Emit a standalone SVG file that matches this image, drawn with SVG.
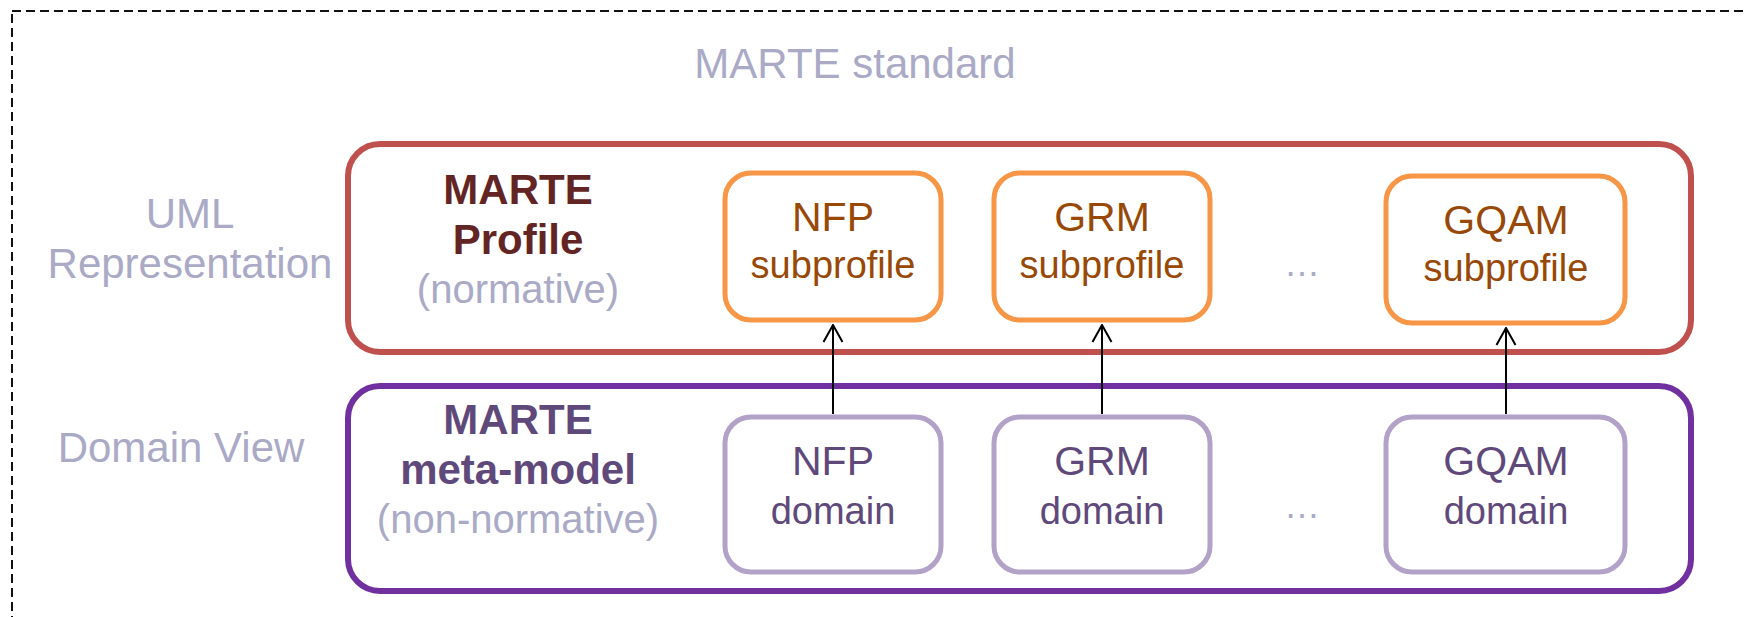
<svg xmlns="http://www.w3.org/2000/svg" width="1746" height="617" viewBox="0 0 1746 617">
  <defs>
    <!-- open V head, drawn along +x so orient="auto" turns it with the line -->
    <marker id="open-arrow" viewBox="0 0 20 22" refX="19" refY="11" markerWidth="20" markerHeight="22" markerUnits="userSpaceOnUse" orient="auto">
      <path d="M2 1.5 L19 11 L2 20.5" fill="none" stroke="#000" stroke-width="2"/>
    </marker>
    <style>
      text { font-family: "Liberation Sans", Arial, sans-serif; text-anchor: middle; }
      .frame { fill: none; stroke: #111; stroke-width: 2; stroke-dasharray: 9 5; }
      .label { fill: #aaaac6; font-size: 42px; }
      .sub { fill: #aaaac6; font-size: 40px; }
      .dots { fill: #aaaac6; font-size: 36px; }
      .profile-box { fill: #fff; stroke: #c0504d; stroke-width: 6; }
      .meta-box { fill: #fff; stroke: #7030a0; stroke-width: 6; }
      .profile-title { fill: #632523; font-size: 42px; font-weight: bold; }
      .meta-title { fill: #5f497a; font-size: 42px; font-weight: bold; }
      .subprofile { fill: #fff; stroke: #f79646; stroke-width: 5; }
      .subprofile-text { fill: #984807; }
      .domain { fill: #fff; stroke: #b3a2c7; stroke-width: 5; }
      .domain-text { fill: #5f497a; }
      .big { font-size: 41px; }
      .small { font-size: 38px; }
      .link { stroke: #000; stroke-width: 2; fill: none; marker-end: url(#open-arrow); }
    </style>
  </defs>

  <rect width="1746" height="617" fill="#fff"/>

  <!-- dashed frame of the standard, running off the right and bottom edges -->
  <rect class="frame" x="12" y="11" width="1760" height="640"/>
  <text class="label" x="855" y="78">MARTE standard</text>

  <!-- row labels -->
  <text class="label" x="190" y="228">UML</text>
  <text class="label" x="190" y="278">Representation</text>
  <text class="label" x="181" y="462">Domain View</text>

  <!-- profile layer -->
  <g id="marte-profile">
    <rect class="profile-box" x="348" y="144" width="1343" height="208" rx="32"/>
    <text class="profile-title" x="518" y="204">MARTE</text>
    <text class="profile-title" x="518" y="254">Profile</text>
    <text class="sub" x="518" y="303">(normative)</text>
  </g>

  <!-- domain layer -->
  <g id="marte-metamodel">
    <rect class="meta-box" x="348" y="386" width="1343" height="205" rx="32"/>
    <text class="meta-title" x="518" y="434">MARTE</text>
    <text class="meta-title" x="518" y="484">meta-model</text>
    <text class="sub" x="518" y="533">(non-normative)</text>
  </g>

  <g id="nfp-subprofile">
    <rect class="subprofile" x="725" y="173" width="216" height="147" rx="26"/>
    <text class="subprofile-text big" x="833" y="231">NFP</text>
    <text class="subprofile-text small" x="833" y="278">subprofile</text>
  </g>
  <g id="grm-subprofile">
    <rect class="subprofile" x="994" y="173" width="216" height="147" rx="26"/>
    <text class="subprofile-text big" x="1102" y="231">GRM</text>
    <text class="subprofile-text small" x="1102" y="278">subprofile</text>
  </g>
  <g id="more-subprofiles">
    <text class="dots" x="1302" y="276">…</text>
  </g>
  <g id="gqam-subprofile">
    <rect class="subprofile" x="1386" y="176" width="239" height="147" rx="26"/>
    <text class="subprofile-text big" x="1506" y="234">GQAM</text>
    <text class="subprofile-text small" x="1506" y="281">subprofile</text>
  </g>

  <g id="nfp-domain">
    <rect class="domain" x="725" y="417" width="216" height="155" rx="26"/>
    <text class="domain-text big" x="833" y="475">NFP</text>
    <text class="domain-text small" x="833" y="524">domain</text>
  </g>
  <g id="grm-domain">
    <rect class="domain" x="994" y="417" width="216" height="155" rx="26"/>
    <text class="domain-text big" x="1102" y="475">GRM</text>
    <text class="domain-text small" x="1102" y="524">domain</text>
  </g>
  <g id="more-domains">
    <text class="dots" x="1302" y="518">…</text>
  </g>
  <g id="gqam-domain">
    <rect class="domain" x="1386" y="417" width="239" height="155" rx="26"/>
    <text class="domain-text big" x="1506" y="475">GQAM</text>
    <text class="domain-text small" x="1506" y="524">domain</text>
  </g>

  <!-- each domain package maps to its subprofile -->
  <g id="connectors">
    <line class="link" x1="833" y1="414" x2="833" y2="325"/>
    <line class="link" x1="1102" y1="414" x2="1102" y2="325"/>
    <line class="link" x1="1506" y1="414" x2="1506" y2="328"/>
  </g>
</svg>
